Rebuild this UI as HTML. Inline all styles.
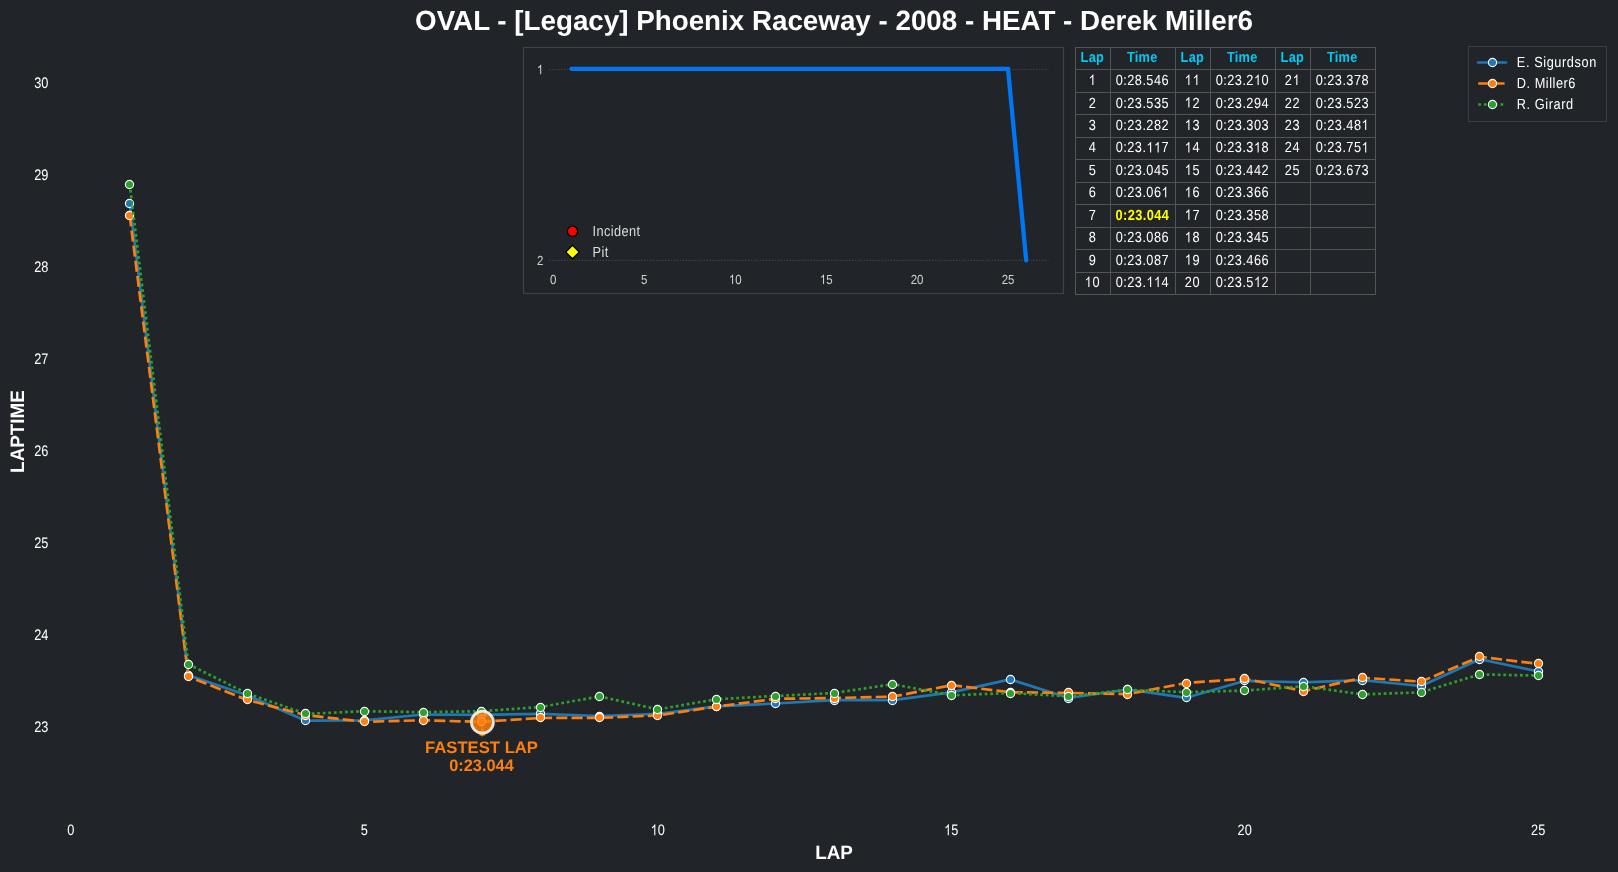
<!DOCTYPE html>
<html><head><meta charset="utf-8"><title>Lap chart</title>
<style>html,body{margin:0;padding:0;background:#212529;width:1618px;height:872px;overflow:hidden;position:relative}</style>
</head><body>
<svg width="1618" height="872" viewBox="0 0 1618 872" style="position:absolute;left:0;top:0;will-change:transform" text-rendering="geometricPrecision">
<rect width="1618" height="872" fill="#212529"/>
<text x="834.00" y="29.80" text-anchor="middle" font-family='"Liberation Sans", sans-serif' font-size="27.78" font-weight="bold" fill="#fff">OVAL - [Legacy] Phoenix Raceway - 2008 - HEAT - Derek Miller6</text>
<text transform="translate(34.19,732.20) scale(0.92,1.1)" font-family='"Liberation Sans", sans-serif' font-size="13.89" letter-spacing="0.000" fill="#ffffff">23</text>
<text transform="translate(34.19,640.14) scale(0.92,1.1)" font-family='"Liberation Sans", sans-serif' font-size="13.89" letter-spacing="0.000" fill="#ffffff">24</text>
<text transform="translate(34.19,548.08) scale(0.92,1.1)" font-family='"Liberation Sans", sans-serif' font-size="13.89" letter-spacing="0.000" fill="#ffffff">25</text>
<text transform="translate(34.19,456.02) scale(0.92,1.1)" font-family='"Liberation Sans", sans-serif' font-size="13.89" letter-spacing="0.000" fill="#ffffff">26</text>
<text transform="translate(34.19,363.96) scale(0.92,1.1)" font-family='"Liberation Sans", sans-serif' font-size="13.89" letter-spacing="0.000" fill="#ffffff">27</text>
<text transform="translate(34.19,271.90) scale(0.92,1.1)" font-family='"Liberation Sans", sans-serif' font-size="13.89" letter-spacing="0.000" fill="#ffffff">28</text>
<text transform="translate(34.19,179.84) scale(0.92,1.1)" font-family='"Liberation Sans", sans-serif' font-size="13.89" letter-spacing="0.000" fill="#ffffff">29</text>
<text transform="translate(34.19,87.78) scale(0.92,1.1)" font-family='"Liberation Sans", sans-serif' font-size="13.89" letter-spacing="0.000" fill="#ffffff">30</text>
<text transform="translate(67.14,835.20) scale(0.92,1.09)" font-family='"Liberation Sans", sans-serif' font-size="13.89" letter-spacing="0.000" fill="#ffffff">0</text>
<text transform="translate(360.64,835.20) scale(0.92,1.09)" font-family='"Liberation Sans", sans-serif' font-size="13.89" letter-spacing="0.000" fill="#ffffff">5</text>
<text transform="translate(650.58,835.20) scale(0.92,1.09)" font-family='"Liberation Sans", sans-serif' font-size="13.89" letter-spacing="0.000" fill="#ffffff"> 0</text><path transform="translate(650.58,835.20) scale(0.00624,-0.00739)" d="M763 0L583 0L583 1147C540 1106 483 1064 413 1023C342 982 279 951 223 930L223 1104C323 1151 411 1208 486 1275C561 1342 614 1406 645 1466L763 1466Z" fill="#ffffff"/>
<text transform="translate(944.08,835.20) scale(0.92,1.09)" font-family='"Liberation Sans", sans-serif' font-size="13.89" letter-spacing="0.000" fill="#ffffff"> 5</text><path transform="translate(944.08,835.20) scale(0.00624,-0.00739)" d="M763 0L583 0L583 1147C540 1106 483 1064 413 1023C342 982 279 951 223 930L223 1104C323 1151 411 1208 486 1275C561 1342 614 1406 645 1466L763 1466Z" fill="#ffffff"/>
<text transform="translate(1237.58,835.20) scale(0.92,1.09)" font-family='"Liberation Sans", sans-serif' font-size="13.89" letter-spacing="0.000" fill="#ffffff">20</text>
<text transform="translate(1531.08,835.20) scale(0.92,1.09)" font-family='"Liberation Sans", sans-serif' font-size="13.89" letter-spacing="0.000" fill="#ffffff">25</text>
<text transform="translate(834.00,859.00) scale(0.97,1.0)" text-anchor="middle" font-family='"Liberation Sans", sans-serif' font-size="19.44" font-weight="bold" fill="#fff">LAP</text>
<text transform="translate(24.4,431.5) rotate(-90) scale(0.97,1)" text-anchor="middle" font-family='"Liberation Sans", sans-serif' font-weight="bold" font-size="19.44" fill="#fff">LAPTIME</text>
<polyline points="129.69,203.30 188.39,675.30 247.09,695.30 305.79,720.70 364.49,720.30 423.19,714.50 481.89,714.90 540.59,713.80 599.29,716.00 657.99,713.80 716.69,706.40 775.39,703.50 834.09,700.10 892.79,700.10 951.49,692.40 1010.19,679.40 1068.89,698.00 1127.59,689.50 1186.29,697.80 1244.99,680.80 1303.69,682.40 1362.39,680.10 1421.09,686.00 1479.79,659.30 1538.49,671.50" fill="none" stroke="#1f77b4" stroke-width="2.7" stroke-linejoin="round" stroke-linecap="butt"/>
<circle cx="129.5" cy="203.5" r="4.1" fill="#1f77b4" stroke="#fff" stroke-width="1.15"/><circle cx="188.5" cy="675.5" r="4.1" fill="#1f77b4" stroke="#fff" stroke-width="1.15"/><circle cx="247.5" cy="695.5" r="4.1" fill="#1f77b4" stroke="#fff" stroke-width="1.15"/><circle cx="305.5" cy="720.5" r="4.1" fill="#1f77b4" stroke="#fff" stroke-width="1.15"/><circle cx="364.5" cy="720.5" r="4.1" fill="#1f77b4" stroke="#fff" stroke-width="1.15"/><circle cx="423.5" cy="714.5" r="4.1" fill="#1f77b4" stroke="#fff" stroke-width="1.15"/><circle cx="481.5" cy="714.5" r="4.1" fill="#1f77b4" stroke="#fff" stroke-width="1.15"/><circle cx="540.5" cy="713.5" r="4.1" fill="#1f77b4" stroke="#fff" stroke-width="1.15"/><circle cx="599.5" cy="716.5" r="4.1" fill="#1f77b4" stroke="#fff" stroke-width="1.15"/><circle cx="657.5" cy="713.5" r="4.1" fill="#1f77b4" stroke="#fff" stroke-width="1.15"/><circle cx="716.5" cy="706.5" r="4.1" fill="#1f77b4" stroke="#fff" stroke-width="1.15"/><circle cx="775.5" cy="703.5" r="4.1" fill="#1f77b4" stroke="#fff" stroke-width="1.15"/><circle cx="834.5" cy="700.5" r="4.1" fill="#1f77b4" stroke="#fff" stroke-width="1.15"/><circle cx="892.5" cy="700.5" r="4.1" fill="#1f77b4" stroke="#fff" stroke-width="1.15"/><circle cx="951.5" cy="692.5" r="4.1" fill="#1f77b4" stroke="#fff" stroke-width="1.15"/><circle cx="1010.5" cy="679.5" r="4.1" fill="#1f77b4" stroke="#fff" stroke-width="1.15"/><circle cx="1068.5" cy="698.5" r="4.1" fill="#1f77b4" stroke="#fff" stroke-width="1.15"/><circle cx="1127.5" cy="689.5" r="4.1" fill="#1f77b4" stroke="#fff" stroke-width="1.15"/><circle cx="1186.5" cy="697.5" r="4.1" fill="#1f77b4" stroke="#fff" stroke-width="1.15"/><circle cx="1244.5" cy="680.5" r="4.1" fill="#1f77b4" stroke="#fff" stroke-width="1.15"/><circle cx="1303.5" cy="682.5" r="4.1" fill="#1f77b4" stroke="#fff" stroke-width="1.15"/><circle cx="1362.5" cy="680.5" r="4.1" fill="#1f77b4" stroke="#fff" stroke-width="1.15"/><circle cx="1421.5" cy="686.5" r="4.1" fill="#1f77b4" stroke="#fff" stroke-width="1.15"/><circle cx="1479.5" cy="659.5" r="4.1" fill="#1f77b4" stroke="#fff" stroke-width="1.15"/><circle cx="1538.5" cy="671.5" r="4.1" fill="#1f77b4" stroke="#fff" stroke-width="1.15"/>
<polyline points="129.69,215.34 188.39,676.65 247.09,699.94 305.79,715.13 364.49,721.76 423.19,720.28 481.89,721.85 540.59,717.98 599.29,717.89 657.99,715.41 716.69,706.57 775.39,698.83 834.09,698.01 892.79,696.62 951.49,685.21 1010.19,692.21 1068.89,692.94 1127.59,694.14 1186.29,683.00 1244.99,678.77 1303.69,691.10 1362.39,677.75 1421.09,681.62 1479.79,656.76 1538.49,663.94" fill="none" stroke="#ff7f0e" stroke-width="2.7" stroke-linejoin="round" stroke-linecap="butt" stroke-dasharray="11.1 4.17"/>
<circle cx="129.5" cy="215.5" r="4.1" fill="#ff7f0e" stroke="#fff" stroke-width="1.15"/><circle cx="188.5" cy="676.5" r="4.1" fill="#ff7f0e" stroke="#fff" stroke-width="1.15"/><circle cx="247.5" cy="699.5" r="4.1" fill="#ff7f0e" stroke="#fff" stroke-width="1.15"/><circle cx="305.5" cy="715.5" r="4.1" fill="#ff7f0e" stroke="#fff" stroke-width="1.15"/><circle cx="364.5" cy="721.5" r="4.1" fill="#ff7f0e" stroke="#fff" stroke-width="1.15"/><circle cx="423.5" cy="720.5" r="4.1" fill="#ff7f0e" stroke="#fff" stroke-width="1.15"/><circle cx="481.5" cy="721.5" r="4.1" fill="#ff7f0e" stroke="#fff" stroke-width="1.15"/><circle cx="540.5" cy="717.5" r="4.1" fill="#ff7f0e" stroke="#fff" stroke-width="1.15"/><circle cx="599.5" cy="717.5" r="4.1" fill="#ff7f0e" stroke="#fff" stroke-width="1.15"/><circle cx="657.5" cy="715.5" r="4.1" fill="#ff7f0e" stroke="#fff" stroke-width="1.15"/><circle cx="716.5" cy="706.5" r="4.1" fill="#ff7f0e" stroke="#fff" stroke-width="1.15"/><circle cx="775.5" cy="698.5" r="4.1" fill="#ff7f0e" stroke="#fff" stroke-width="1.15"/><circle cx="834.5" cy="698.5" r="4.1" fill="#ff7f0e" stroke="#fff" stroke-width="1.15"/><circle cx="892.5" cy="696.5" r="4.1" fill="#ff7f0e" stroke="#fff" stroke-width="1.15"/><circle cx="951.5" cy="685.5" r="4.1" fill="#ff7f0e" stroke="#fff" stroke-width="1.15"/><circle cx="1010.5" cy="692.5" r="4.1" fill="#ff7f0e" stroke="#fff" stroke-width="1.15"/><circle cx="1068.5" cy="692.5" r="4.1" fill="#ff7f0e" stroke="#fff" stroke-width="1.15"/><circle cx="1127.5" cy="694.5" r="4.1" fill="#ff7f0e" stroke="#fff" stroke-width="1.15"/><circle cx="1186.5" cy="683.5" r="4.1" fill="#ff7f0e" stroke="#fff" stroke-width="1.15"/><circle cx="1244.5" cy="678.5" r="4.1" fill="#ff7f0e" stroke="#fff" stroke-width="1.15"/><circle cx="1303.5" cy="691.5" r="4.1" fill="#ff7f0e" stroke="#fff" stroke-width="1.15"/><circle cx="1362.5" cy="677.5" r="4.1" fill="#ff7f0e" stroke="#fff" stroke-width="1.15"/><circle cx="1421.5" cy="681.5" r="4.1" fill="#ff7f0e" stroke="#fff" stroke-width="1.15"/><circle cx="1479.5" cy="656.5" r="4.1" fill="#ff7f0e" stroke="#fff" stroke-width="1.15"/><circle cx="1538.5" cy="663.5" r="4.1" fill="#ff7f0e" stroke="#fff" stroke-width="1.15"/>
<polyline points="129.69,184.30 188.39,664.30 247.09,693.40 305.79,713.90 364.49,711.20 423.19,712.20 481.89,711.20 540.59,707.00 599.29,696.40 657.99,709.40 716.69,699.20 775.39,696.00 834.09,693.00 892.79,684.20 951.49,695.30 1010.19,693.00 1068.89,696.30 1127.59,689.90 1186.29,692.20 1244.99,690.60 1303.69,686.20 1362.39,694.40 1421.09,692.30 1479.79,674.40 1538.49,675.60" fill="none" stroke="#2ca02c" stroke-width="2.7" stroke-linejoin="round" stroke-linecap="butt" stroke-dasharray="2.78 2.78"/>
<circle cx="129.5" cy="184.5" r="4.1" fill="#2ca02c" stroke="#fff" stroke-width="1.15"/><circle cx="188.5" cy="664.5" r="4.1" fill="#2ca02c" stroke="#fff" stroke-width="1.15"/><circle cx="247.5" cy="693.5" r="4.1" fill="#2ca02c" stroke="#fff" stroke-width="1.15"/><circle cx="305.5" cy="713.5" r="4.1" fill="#2ca02c" stroke="#fff" stroke-width="1.15"/><circle cx="364.5" cy="711.5" r="4.1" fill="#2ca02c" stroke="#fff" stroke-width="1.15"/><circle cx="423.5" cy="712.5" r="4.1" fill="#2ca02c" stroke="#fff" stroke-width="1.15"/><circle cx="481.5" cy="711.5" r="4.1" fill="#2ca02c" stroke="#fff" stroke-width="1.15"/><circle cx="540.5" cy="707.5" r="4.1" fill="#2ca02c" stroke="#fff" stroke-width="1.15"/><circle cx="599.5" cy="696.5" r="4.1" fill="#2ca02c" stroke="#fff" stroke-width="1.15"/><circle cx="657.5" cy="709.5" r="4.1" fill="#2ca02c" stroke="#fff" stroke-width="1.15"/><circle cx="716.5" cy="699.5" r="4.1" fill="#2ca02c" stroke="#fff" stroke-width="1.15"/><circle cx="775.5" cy="696.5" r="4.1" fill="#2ca02c" stroke="#fff" stroke-width="1.15"/><circle cx="834.5" cy="693.5" r="4.1" fill="#2ca02c" stroke="#fff" stroke-width="1.15"/><circle cx="892.5" cy="684.5" r="4.1" fill="#2ca02c" stroke="#fff" stroke-width="1.15"/><circle cx="951.5" cy="695.5" r="4.1" fill="#2ca02c" stroke="#fff" stroke-width="1.15"/><circle cx="1010.5" cy="693.5" r="4.1" fill="#2ca02c" stroke="#fff" stroke-width="1.15"/><circle cx="1068.5" cy="696.5" r="4.1" fill="#2ca02c" stroke="#fff" stroke-width="1.15"/><circle cx="1127.5" cy="689.5" r="4.1" fill="#2ca02c" stroke="#fff" stroke-width="1.15"/><circle cx="1186.5" cy="692.5" r="4.1" fill="#2ca02c" stroke="#fff" stroke-width="1.15"/><circle cx="1244.5" cy="690.5" r="4.1" fill="#2ca02c" stroke="#fff" stroke-width="1.15"/><circle cx="1303.5" cy="686.5" r="4.1" fill="#2ca02c" stroke="#fff" stroke-width="1.15"/><circle cx="1362.5" cy="694.5" r="4.1" fill="#2ca02c" stroke="#fff" stroke-width="1.15"/><circle cx="1421.5" cy="692.5" r="4.1" fill="#2ca02c" stroke="#fff" stroke-width="1.15"/><circle cx="1479.5" cy="674.5" r="4.1" fill="#2ca02c" stroke="#fff" stroke-width="1.15"/><circle cx="1538.5" cy="675.5" r="4.1" fill="#2ca02c" stroke="#fff" stroke-width="1.15"/>
<polygon points="482.4,725.5 479.5,735.4 485.3,735.4" fill="#ff7f0e"/>
<polygon points="479.2,733.2 485.6,733.2 481.9,736.8" fill="#ff7f0e"/>
<circle cx="482.4" cy="722.2" r="11" fill="#ff7f0e" fill-opacity="0.82" stroke="#fff" stroke-opacity="0.85" stroke-width="2.8"/>
<text x="481.50" y="752.90" text-anchor="middle" font-family='"Liberation Sans", sans-serif' font-size="16.67" font-weight="bold" fill="#ff7f0e">FASTEST LAP</text>
<text transform="translate(481.50,770.90) scale(0.98,1.0)" text-anchor="middle" font-family='"Liberation Sans", sans-serif' font-size="16.67" font-weight="bold" fill="#ff7f0e">0:23.044</text>
<rect x="1468.5" y="46.5" width="138" height="75" fill="#212529" stroke="#3c3f44" stroke-width="1"/>
<line x1="1478.2" y1="62.5" x2="1506" y2="62.5" stroke="#1f77b4" stroke-width="2.7" stroke-linecap="round"/>
<circle cx="1492.5" cy="62.5" r="4.1" fill="#1f77b4" stroke="#fff" stroke-width="1.15"/>
<text transform="translate(1516.80,67.10) scale(0.92,1.06)" font-family='"Liberation Sans", sans-serif' font-size="13.89" letter-spacing="0.629" fill="#ffffff">E. Sigurdson</text>
<line x1="1478.2" y1="83.5" x2="1506" y2="83.5" stroke="#ff7f0e" stroke-width="2.7" stroke-linecap="butt" stroke-dasharray="11.1 4.17"/>
<circle cx="1492.5" cy="83.5" r="4.1" fill="#ff7f0e" stroke="#fff" stroke-width="1.15"/>
<text transform="translate(1516.80,88.10) scale(0.92,1.06)" font-family='"Liberation Sans", sans-serif' font-size="13.89" letter-spacing="0.567" fill="#ffffff">D. Miller6</text>
<line x1="1478.2" y1="104.5" x2="1506" y2="104.5" stroke="#2ca02c" stroke-width="2.7" stroke-linecap="butt" stroke-dasharray="2.78 2.78"/>
<circle cx="1492.5" cy="104.5" r="4.1" fill="#2ca02c" stroke="#fff" stroke-width="1.15"/>
<text transform="translate(1516.80,109.10) scale(0.92,1.06)" font-family='"Liberation Sans", sans-serif' font-size="13.89" letter-spacing="0.612" fill="#ffffff">R. Girard</text>
<rect x="523.5" y="47.5" width="540" height="246" fill="none" stroke="#3f4247" stroke-width="1.2"/>
<line x1="549" y1="69.4" x2="1048.5" y2="69.4" stroke="#4a4d52" stroke-width="0.9" stroke-dasharray="1.45 1.52"/>
<line x1="549" y1="260.4" x2="1048.5" y2="260.4" stroke="#4a4d52" stroke-width="0.9" stroke-dasharray="1.45 1.52"/>
<text transform="translate(536.90,74.30) scale(0.92,1.06)" font-family='"Liberation Sans", sans-serif' font-size="12.5" letter-spacing="0.000" fill="#d2d2d2"> </text><path transform="translate(536.90,74.30) scale(0.00562,-0.00647)" d="M763 0L583 0L583 1147C540 1106 483 1064 413 1023C342 982 279 951 223 930L223 1104C323 1151 411 1208 486 1275C561 1342 614 1406 645 1466L763 1466Z" fill="#d2d2d2"/>
<text transform="translate(536.90,265.30) scale(0.92,1.06)" font-family='"Liberation Sans", sans-serif' font-size="12.5" letter-spacing="0.000" fill="#d2d2d2">2</text>
<text transform="translate(550.10,283.90) scale(0.92,1.06)" font-family='"Liberation Sans", sans-serif' font-size="12.5" letter-spacing="0.000" fill="#d2d2d2">0</text>
<text transform="translate(641.05,283.90) scale(0.92,1.06)" font-family='"Liberation Sans", sans-serif' font-size="12.5" letter-spacing="0.000" fill="#d2d2d2">5</text>
<text transform="translate(728.80,283.90) scale(0.92,1.06)" font-family='"Liberation Sans", sans-serif' font-size="12.5" letter-spacing="0.000" fill="#d2d2d2"> 0</text><path transform="translate(728.80,283.90) scale(0.00562,-0.00647)" d="M763 0L583 0L583 1147C540 1106 483 1064 413 1023C342 982 279 951 223 930L223 1104C323 1151 411 1208 486 1275C561 1342 614 1406 645 1466L763 1466Z" fill="#d2d2d2"/>
<text transform="translate(819.75,283.90) scale(0.92,1.06)" font-family='"Liberation Sans", sans-serif' font-size="12.5" letter-spacing="0.000" fill="#d2d2d2"> 5</text><path transform="translate(819.75,283.90) scale(0.00562,-0.00647)" d="M763 0L583 0L583 1147C540 1106 483 1064 413 1023C342 982 279 951 223 930L223 1104C323 1151 411 1208 486 1275C561 1342 614 1406 645 1466L763 1466Z" fill="#d2d2d2"/>
<text transform="translate(910.70,283.90) scale(0.92,1.06)" font-family='"Liberation Sans", sans-serif' font-size="12.5" letter-spacing="0.000" fill="#d2d2d2">20</text>
<text transform="translate(1001.65,283.90) scale(0.92,1.06)" font-family='"Liberation Sans", sans-serif' font-size="12.5" letter-spacing="0.000" fill="#d2d2d2">25</text>
<polyline points="571.5,68.9 1008.0,68.9 1026.2,260.4" fill="none" stroke="#0077f2" stroke-width="4.3" stroke-linecap="round" stroke-linejoin="miter"/>
<circle cx="572.5" cy="231.3" r="5.2" fill="#ff0000" stroke="#000" stroke-width="1.4"/>
<polygon points="572.5,245.4 579.2,252.1 572.5,258.8 565.8,252.1" fill="#ffff00" stroke="#000" stroke-width="1.3"/>
<text transform="translate(592.60,235.90) scale(0.92,1.06)" font-family='"Liberation Sans", sans-serif' font-size="13.89" letter-spacing="0.423" fill="#dcdcdc">Incident</text>
<text transform="translate(592.60,257.10) scale(0.92,1.06)" font-family='"Liberation Sans", sans-serif' font-size="13.89" letter-spacing="0.493" fill="#dcdcdc">Pit</text>
<line x1="1075.0" y1="47.50" x2="1376.0" y2="47.50" stroke="#545454" stroke-width="1"/>
<line x1="1075.0" y1="69.50" x2="1376.0" y2="69.50" stroke="#545454" stroke-width="1"/>
<line x1="1075.0" y1="92.50" x2="1376.0" y2="92.50" stroke="#545454" stroke-width="1"/>
<line x1="1075.0" y1="114.50" x2="1376.0" y2="114.50" stroke="#545454" stroke-width="1"/>
<line x1="1075.0" y1="137.50" x2="1376.0" y2="137.50" stroke="#545454" stroke-width="1"/>
<line x1="1075.0" y1="159.50" x2="1376.0" y2="159.50" stroke="#545454" stroke-width="1"/>
<line x1="1075.0" y1="182.50" x2="1376.0" y2="182.50" stroke="#545454" stroke-width="1"/>
<line x1="1075.0" y1="204.50" x2="1376.0" y2="204.50" stroke="#545454" stroke-width="1"/>
<line x1="1075.0" y1="227.50" x2="1376.0" y2="227.50" stroke="#545454" stroke-width="1"/>
<line x1="1075.0" y1="249.50" x2="1376.0" y2="249.50" stroke="#545454" stroke-width="1"/>
<line x1="1075.0" y1="272.50" x2="1376.0" y2="272.50" stroke="#545454" stroke-width="1"/>
<line x1="1075.0" y1="294.50" x2="1376.0" y2="294.50" stroke="#545454" stroke-width="1"/>
<line x1="1075.5" y1="47.0" x2="1075.5" y2="295.00" stroke="#545454" stroke-width="1"/>
<line x1="1110.5" y1="47.0" x2="1110.5" y2="295.00" stroke="#545454" stroke-width="1"/>
<line x1="1175.5" y1="47.0" x2="1175.5" y2="295.00" stroke="#545454" stroke-width="1"/>
<line x1="1210.5" y1="47.0" x2="1210.5" y2="295.00" stroke="#545454" stroke-width="1"/>
<line x1="1275.5" y1="47.0" x2="1275.5" y2="295.00" stroke="#545454" stroke-width="1"/>
<line x1="1310.5" y1="47.0" x2="1310.5" y2="295.00" stroke="#545454" stroke-width="1"/>
<line x1="1375.5" y1="47.0" x2="1375.5" y2="295.00" stroke="#545454" stroke-width="1"/>
<text transform="translate(1080.54,61.93) scale(0.92,1.06)" font-family='"Liberation Sans", sans-serif' font-size="13.89" font-weight="bold" letter-spacing="0.322" fill="#02c9f4">Lap</text>
<text transform="translate(1126.90,61.93) scale(0.92,1.06)" font-family='"Liberation Sans", sans-serif' font-size="13.89" font-weight="bold" letter-spacing="0.282" fill="#02c9f4">Time</text>
<text transform="translate(1088.65,85.08) scale(0.92,1.06)" font-family='"Liberation Sans", sans-serif' font-size="13.89" letter-spacing="0.000" fill="#ffffff"> </text><path transform="translate(1088.65,85.08) scale(0.00624,-0.00719)" d="M763 0L583 0L583 1147C540 1106 483 1064 413 1023C342 982 279 951 223 930L223 1104C323 1151 411 1208 486 1275C561 1342 614 1406 645 1466L763 1466Z" fill="#ffffff"/>
<text transform="translate(1115.81,85.08) scale(0.92,1.06)" font-family='"Liberation Sans", sans-serif' font-size="13.89" letter-spacing="0.470" fill="#ffffff">0:28.546</text>
<text transform="translate(1088.65,107.53) scale(0.92,1.06)" font-family='"Liberation Sans", sans-serif' font-size="13.89" letter-spacing="0.000" fill="#ffffff">2</text>
<text transform="translate(1115.81,107.53) scale(0.92,1.06)" font-family='"Liberation Sans", sans-serif' font-size="13.89" letter-spacing="0.470" fill="#ffffff">0:23.535</text>
<text transform="translate(1088.65,129.97) scale(0.92,1.06)" font-family='"Liberation Sans", sans-serif' font-size="13.89" letter-spacing="0.000" fill="#ffffff">3</text>
<text transform="translate(1115.81,129.97) scale(0.92,1.06)" font-family='"Liberation Sans", sans-serif' font-size="13.89" letter-spacing="0.470" fill="#ffffff">0:23.282</text>
<text transform="translate(1088.65,152.43) scale(0.92,1.06)" font-family='"Liberation Sans", sans-serif' font-size="13.89" letter-spacing="0.000" fill="#ffffff">4</text>
<text transform="translate(1115.81,152.43) scale(0.92,1.06)" font-family='"Liberation Sans", sans-serif' font-size="13.89" letter-spacing="0.470" fill="#ffffff">0:23.  7</text><path transform="translate(1146.40,152.43) scale(0.00624,-0.00719)" d="M763 0L583 0L583 1147C540 1106 483 1064 413 1023C342 982 279 951 223 930L223 1104C323 1151 411 1208 486 1275C561 1342 614 1406 645 1466L763 1466Z" fill="#ffffff"/><path transform="translate(1153.94,152.43) scale(0.00624,-0.00719)" d="M763 0L583 0L583 1147C540 1106 483 1064 413 1023C342 982 279 951 223 930L223 1104C323 1151 411 1208 486 1275C561 1342 614 1406 645 1466L763 1466Z" fill="#ffffff"/>
<text transform="translate(1088.65,174.88) scale(0.92,1.06)" font-family='"Liberation Sans", sans-serif' font-size="13.89" letter-spacing="0.000" fill="#ffffff">5</text>
<text transform="translate(1115.81,174.88) scale(0.92,1.06)" font-family='"Liberation Sans", sans-serif' font-size="13.89" letter-spacing="0.470" fill="#ffffff">0:23.045</text>
<text transform="translate(1088.65,197.32) scale(0.92,1.06)" font-family='"Liberation Sans", sans-serif' font-size="13.89" letter-spacing="0.000" fill="#ffffff">6</text>
<text transform="translate(1115.81,197.32) scale(0.92,1.06)" font-family='"Liberation Sans", sans-serif' font-size="13.89" letter-spacing="0.470" fill="#ffffff">0:23.06 </text><path transform="translate(1161.48,197.32) scale(0.00624,-0.00719)" d="M763 0L583 0L583 1147C540 1106 483 1064 413 1023C342 982 279 951 223 930L223 1104C323 1151 411 1208 486 1275C561 1342 614 1406 645 1466L763 1466Z" fill="#ffffff"/>
<text transform="translate(1088.65,219.78) scale(0.92,1.06)" font-family='"Liberation Sans", sans-serif' font-size="13.89" letter-spacing="0.000" fill="#ffffff">7</text>
<text transform="translate(1115.44,219.78) scale(0.92,1.06)" font-family='"Liberation Sans", sans-serif' font-size="13.89" font-weight="bold" letter-spacing="0.477" fill="#ffff00">0:23.044</text>
<text transform="translate(1088.65,242.22) scale(0.92,1.06)" font-family='"Liberation Sans", sans-serif' font-size="13.89" letter-spacing="0.000" fill="#ffffff">8</text>
<text transform="translate(1115.81,242.22) scale(0.92,1.06)" font-family='"Liberation Sans", sans-serif' font-size="13.89" letter-spacing="0.470" fill="#ffffff">0:23.086</text>
<text transform="translate(1088.65,264.67) scale(0.92,1.06)" font-family='"Liberation Sans", sans-serif' font-size="13.89" letter-spacing="0.000" fill="#ffffff">9</text>
<text transform="translate(1115.81,264.67) scale(0.92,1.06)" font-family='"Liberation Sans", sans-serif' font-size="13.89" letter-spacing="0.470" fill="#ffffff">0:23.087</text>
<text transform="translate(1084.66,287.12) scale(0.92,1.06)" font-family='"Liberation Sans", sans-serif' font-size="13.89" letter-spacing="0.940" fill="#ffffff"> 0</text><path transform="translate(1084.66,287.12) scale(0.00624,-0.00719)" d="M763 0L583 0L583 1147C540 1106 483 1064 413 1023C342 982 279 951 223 930L223 1104C323 1151 411 1208 486 1275C561 1342 614 1406 645 1466L763 1466Z" fill="#ffffff"/>
<text transform="translate(1115.81,287.12) scale(0.92,1.06)" font-family='"Liberation Sans", sans-serif' font-size="13.89" letter-spacing="0.470" fill="#ffffff">0:23.  4</text><path transform="translate(1146.40,287.12) scale(0.00624,-0.00719)" d="M763 0L583 0L583 1147C540 1106 483 1064 413 1023C342 982 279 951 223 930L223 1104C323 1151 411 1208 486 1275C561 1342 614 1406 645 1466L763 1466Z" fill="#ffffff"/><path transform="translate(1153.94,287.12) scale(0.00624,-0.00719)" d="M763 0L583 0L583 1147C540 1106 483 1064 413 1023C342 982 279 951 223 930L223 1104C323 1151 411 1208 486 1275C561 1342 614 1406 645 1466L763 1466Z" fill="#ffffff"/>
<text transform="translate(1180.54,61.93) scale(0.92,1.06)" font-family='"Liberation Sans", sans-serif' font-size="13.89" font-weight="bold" letter-spacing="0.322" fill="#02c9f4">Lap</text>
<text transform="translate(1226.90,61.93) scale(0.92,1.06)" font-family='"Liberation Sans", sans-serif' font-size="13.89" font-weight="bold" letter-spacing="0.282" fill="#02c9f4">Time</text>
<text transform="translate(1184.66,85.08) scale(0.92,1.06)" font-family='"Liberation Sans", sans-serif' font-size="13.89" letter-spacing="0.940" fill="#ffffff">  </text><path transform="translate(1184.66,85.08) scale(0.00624,-0.00719)" d="M763 0L583 0L583 1147C540 1106 483 1064 413 1023C342 982 279 951 223 930L223 1104C323 1151 411 1208 486 1275C561 1342 614 1406 645 1466L763 1466Z" fill="#ffffff"/><path transform="translate(1192.63,85.08) scale(0.00624,-0.00719)" d="M763 0L583 0L583 1147C540 1106 483 1064 413 1023C342 982 279 951 223 930L223 1104C323 1151 411 1208 486 1275C561 1342 614 1406 645 1466L763 1466Z" fill="#ffffff"/>
<text transform="translate(1215.81,85.08) scale(0.92,1.06)" font-family='"Liberation Sans", sans-serif' font-size="13.89" letter-spacing="0.470" fill="#ffffff">0:23.2 0</text><path transform="translate(1253.94,85.08) scale(0.00624,-0.00719)" d="M763 0L583 0L583 1147C540 1106 483 1064 413 1023C342 982 279 951 223 930L223 1104C323 1151 411 1208 486 1275C561 1342 614 1406 645 1466L763 1466Z" fill="#ffffff"/>
<text transform="translate(1184.66,107.53) scale(0.92,1.06)" font-family='"Liberation Sans", sans-serif' font-size="13.89" letter-spacing="0.940" fill="#ffffff"> 2</text><path transform="translate(1184.66,107.53) scale(0.00624,-0.00719)" d="M763 0L583 0L583 1147C540 1106 483 1064 413 1023C342 982 279 951 223 930L223 1104C323 1151 411 1208 486 1275C561 1342 614 1406 645 1466L763 1466Z" fill="#ffffff"/>
<text transform="translate(1215.81,107.53) scale(0.92,1.06)" font-family='"Liberation Sans", sans-serif' font-size="13.89" letter-spacing="0.470" fill="#ffffff">0:23.294</text>
<text transform="translate(1184.66,129.97) scale(0.92,1.06)" font-family='"Liberation Sans", sans-serif' font-size="13.89" letter-spacing="0.940" fill="#ffffff"> 3</text><path transform="translate(1184.66,129.97) scale(0.00624,-0.00719)" d="M763 0L583 0L583 1147C540 1106 483 1064 413 1023C342 982 279 951 223 930L223 1104C323 1151 411 1208 486 1275C561 1342 614 1406 645 1466L763 1466Z" fill="#ffffff"/>
<text transform="translate(1215.81,129.97) scale(0.92,1.06)" font-family='"Liberation Sans", sans-serif' font-size="13.89" letter-spacing="0.470" fill="#ffffff">0:23.303</text>
<text transform="translate(1184.66,152.43) scale(0.92,1.06)" font-family='"Liberation Sans", sans-serif' font-size="13.89" letter-spacing="0.940" fill="#ffffff"> 4</text><path transform="translate(1184.66,152.43) scale(0.00624,-0.00719)" d="M763 0L583 0L583 1147C540 1106 483 1064 413 1023C342 982 279 951 223 930L223 1104C323 1151 411 1208 486 1275C561 1342 614 1406 645 1466L763 1466Z" fill="#ffffff"/>
<text transform="translate(1215.81,152.43) scale(0.92,1.06)" font-family='"Liberation Sans", sans-serif' font-size="13.89" letter-spacing="0.470" fill="#ffffff">0:23.3 8</text><path transform="translate(1253.94,152.43) scale(0.00624,-0.00719)" d="M763 0L583 0L583 1147C540 1106 483 1064 413 1023C342 982 279 951 223 930L223 1104C323 1151 411 1208 486 1275C561 1342 614 1406 645 1466L763 1466Z" fill="#ffffff"/>
<text transform="translate(1184.66,174.88) scale(0.92,1.06)" font-family='"Liberation Sans", sans-serif' font-size="13.89" letter-spacing="0.940" fill="#ffffff"> 5</text><path transform="translate(1184.66,174.88) scale(0.00624,-0.00719)" d="M763 0L583 0L583 1147C540 1106 483 1064 413 1023C342 982 279 951 223 930L223 1104C323 1151 411 1208 486 1275C561 1342 614 1406 645 1466L763 1466Z" fill="#ffffff"/>
<text transform="translate(1215.81,174.88) scale(0.92,1.06)" font-family='"Liberation Sans", sans-serif' font-size="13.89" letter-spacing="0.470" fill="#ffffff">0:23.442</text>
<text transform="translate(1184.66,197.32) scale(0.92,1.06)" font-family='"Liberation Sans", sans-serif' font-size="13.89" letter-spacing="0.940" fill="#ffffff"> 6</text><path transform="translate(1184.66,197.32) scale(0.00624,-0.00719)" d="M763 0L583 0L583 1147C540 1106 483 1064 413 1023C342 982 279 951 223 930L223 1104C323 1151 411 1208 486 1275C561 1342 614 1406 645 1466L763 1466Z" fill="#ffffff"/>
<text transform="translate(1215.81,197.32) scale(0.92,1.06)" font-family='"Liberation Sans", sans-serif' font-size="13.89" letter-spacing="0.470" fill="#ffffff">0:23.366</text>
<text transform="translate(1184.66,219.78) scale(0.92,1.06)" font-family='"Liberation Sans", sans-serif' font-size="13.89" letter-spacing="0.940" fill="#ffffff"> 7</text><path transform="translate(1184.66,219.78) scale(0.00624,-0.00719)" d="M763 0L583 0L583 1147C540 1106 483 1064 413 1023C342 982 279 951 223 930L223 1104C323 1151 411 1208 486 1275C561 1342 614 1406 645 1466L763 1466Z" fill="#ffffff"/>
<text transform="translate(1215.81,219.78) scale(0.92,1.06)" font-family='"Liberation Sans", sans-serif' font-size="13.89" letter-spacing="0.470" fill="#ffffff">0:23.358</text>
<text transform="translate(1184.66,242.22) scale(0.92,1.06)" font-family='"Liberation Sans", sans-serif' font-size="13.89" letter-spacing="0.940" fill="#ffffff"> 8</text><path transform="translate(1184.66,242.22) scale(0.00624,-0.00719)" d="M763 0L583 0L583 1147C540 1106 483 1064 413 1023C342 982 279 951 223 930L223 1104C323 1151 411 1208 486 1275C561 1342 614 1406 645 1466L763 1466Z" fill="#ffffff"/>
<text transform="translate(1215.81,242.22) scale(0.92,1.06)" font-family='"Liberation Sans", sans-serif' font-size="13.89" letter-spacing="0.470" fill="#ffffff">0:23.345</text>
<text transform="translate(1184.66,264.67) scale(0.92,1.06)" font-family='"Liberation Sans", sans-serif' font-size="13.89" letter-spacing="0.940" fill="#ffffff"> 9</text><path transform="translate(1184.66,264.67) scale(0.00624,-0.00719)" d="M763 0L583 0L583 1147C540 1106 483 1064 413 1023C342 982 279 951 223 930L223 1104C323 1151 411 1208 486 1275C561 1342 614 1406 645 1466L763 1466Z" fill="#ffffff"/>
<text transform="translate(1215.81,264.67) scale(0.92,1.06)" font-family='"Liberation Sans", sans-serif' font-size="13.89" letter-spacing="0.470" fill="#ffffff">0:23.466</text>
<text transform="translate(1184.66,287.12) scale(0.92,1.06)" font-family='"Liberation Sans", sans-serif' font-size="13.89" letter-spacing="0.940" fill="#ffffff">20</text>
<text transform="translate(1215.81,287.12) scale(0.92,1.06)" font-family='"Liberation Sans", sans-serif' font-size="13.89" letter-spacing="0.470" fill="#ffffff">0:23.5 2</text><path transform="translate(1253.94,287.12) scale(0.00624,-0.00719)" d="M763 0L583 0L583 1147C540 1106 483 1064 413 1023C342 982 279 951 223 930L223 1104C323 1151 411 1208 486 1275C561 1342 614 1406 645 1466L763 1466Z" fill="#ffffff"/>
<text transform="translate(1280.54,61.93) scale(0.92,1.06)" font-family='"Liberation Sans", sans-serif' font-size="13.89" font-weight="bold" letter-spacing="0.322" fill="#02c9f4">Lap</text>
<text transform="translate(1326.90,61.93) scale(0.92,1.06)" font-family='"Liberation Sans", sans-serif' font-size="13.89" font-weight="bold" letter-spacing="0.282" fill="#02c9f4">Time</text>
<text transform="translate(1284.66,85.08) scale(0.92,1.06)" font-family='"Liberation Sans", sans-serif' font-size="13.89" letter-spacing="0.940" fill="#ffffff">2 </text><path transform="translate(1292.63,85.08) scale(0.00624,-0.00719)" d="M763 0L583 0L583 1147C540 1106 483 1064 413 1023C342 982 279 951 223 930L223 1104C323 1151 411 1208 486 1275C561 1342 614 1406 645 1466L763 1466Z" fill="#ffffff"/>
<text transform="translate(1315.81,85.08) scale(0.92,1.06)" font-family='"Liberation Sans", sans-serif' font-size="13.89" letter-spacing="0.470" fill="#ffffff">0:23.378</text>
<text transform="translate(1284.66,107.53) scale(0.92,1.06)" font-family='"Liberation Sans", sans-serif' font-size="13.89" letter-spacing="0.940" fill="#ffffff">22</text>
<text transform="translate(1315.81,107.53) scale(0.92,1.06)" font-family='"Liberation Sans", sans-serif' font-size="13.89" letter-spacing="0.470" fill="#ffffff">0:23.523</text>
<text transform="translate(1284.66,129.97) scale(0.92,1.06)" font-family='"Liberation Sans", sans-serif' font-size="13.89" letter-spacing="0.940" fill="#ffffff">23</text>
<text transform="translate(1315.81,129.97) scale(0.92,1.06)" font-family='"Liberation Sans", sans-serif' font-size="13.89" letter-spacing="0.470" fill="#ffffff">0:23.48 </text><path transform="translate(1361.48,129.97) scale(0.00624,-0.00719)" d="M763 0L583 0L583 1147C540 1106 483 1064 413 1023C342 982 279 951 223 930L223 1104C323 1151 411 1208 486 1275C561 1342 614 1406 645 1466L763 1466Z" fill="#ffffff"/>
<text transform="translate(1284.66,152.43) scale(0.92,1.06)" font-family='"Liberation Sans", sans-serif' font-size="13.89" letter-spacing="0.940" fill="#ffffff">24</text>
<text transform="translate(1315.81,152.43) scale(0.92,1.06)" font-family='"Liberation Sans", sans-serif' font-size="13.89" letter-spacing="0.470" fill="#ffffff">0:23.75 </text><path transform="translate(1361.48,152.43) scale(0.00624,-0.00719)" d="M763 0L583 0L583 1147C540 1106 483 1064 413 1023C342 982 279 951 223 930L223 1104C323 1151 411 1208 486 1275C561 1342 614 1406 645 1466L763 1466Z" fill="#ffffff"/>
<text transform="translate(1284.66,174.88) scale(0.92,1.06)" font-family='"Liberation Sans", sans-serif' font-size="13.89" letter-spacing="0.940" fill="#ffffff">25</text>
<text transform="translate(1315.81,174.88) scale(0.92,1.06)" font-family='"Liberation Sans", sans-serif' font-size="13.89" letter-spacing="0.470" fill="#ffffff">0:23.673</text>
</svg>

</body></html>
